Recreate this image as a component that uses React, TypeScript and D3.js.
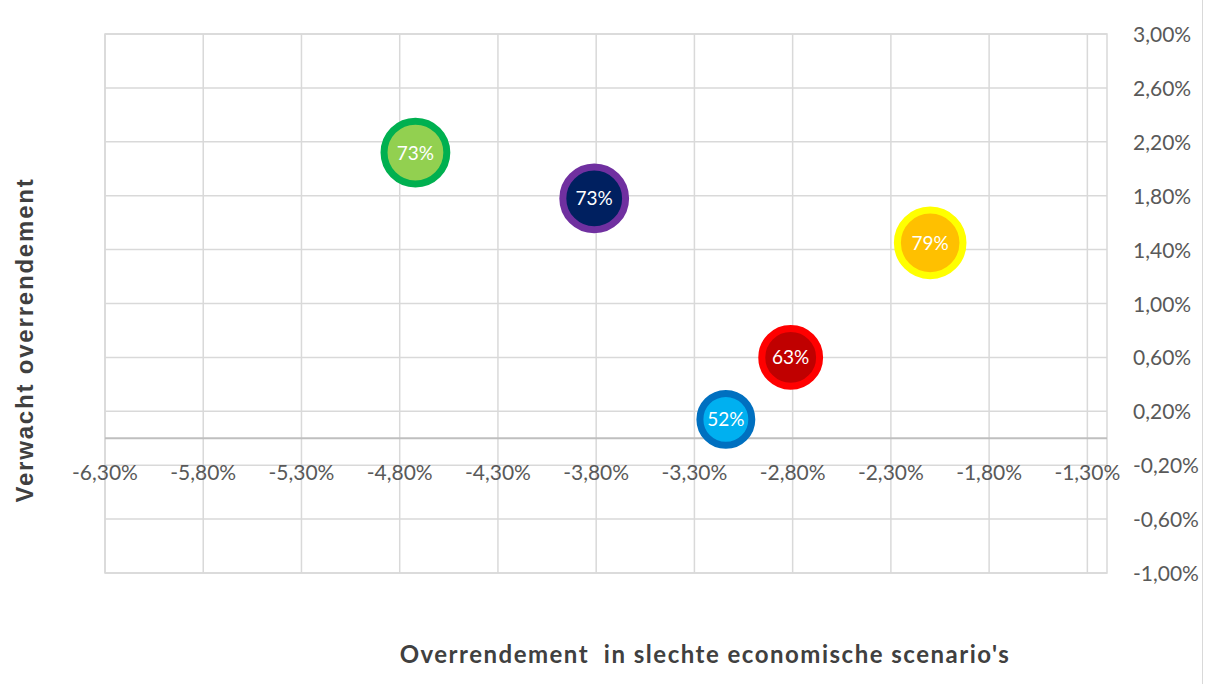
import React from "react";
import * as d3 from "d3";

const xTicks = [-6.3, -5.8, -5.3, -4.8, -4.3, -3.8, -3.3, -2.8, -2.3, -1.8, -1.3];
const yTicks = [-1.0, -0.6, -0.2, 0.2, 0.6, 1.0, 1.4, 1.8, 2.2, 2.6, 3.0];
const xDomain = [-6.3, -1.2];
const yDomain = [-1.0, 3.0];

const bubbleX = [-4.72, -3.81, -2.1, -2.81, -3.14];
const bubbleY = [2.12, 1.78, 1.45, 0.6, 0.14];
const bubbleSize = [73, 73, 79, 63, 52];
const bubbleFill = ["#92D050", "#002060", "#FFC000", "#C00000", "#00B0F0"];
const bubbleStroke = ["#00B050", "#7030A0", "#FFFF00", "#FF0000", "#0070C0"];

const xTitle = "Overrendement  in slechte economische scenario's";
const yTitle = "Verwacht overrendement";

const W = 1207;
const H = 684;

export default function App() {
  const x = d3.scaleLinear().domain(xDomain).range([105, 1107]);
  const y = d3.scaleLinear().domain(yDomain).range([573, 34]);
  const r = d3.scaleSqrt().domain([0, 79]).range([0, 36.3]);
  const fmt = (v: number) => d3.format(".2f")(v).replace("\u2212", "-").replace(".", ",") + "%";
  const sw = 7;
  const grid = "#d9d9d9";
  const font = "Lato, 'Open Sans', sans-serif";
  return (
    <svg
      width={W}
      height={H}
      style={{ position: "absolute", left: 0, top: 0, background: "#fff" }}
      fontFamily={font}
    >
      <rect x={0} y={0} width={W} height={H} fill="#fff" />
      <line x1={1202.5} x2={1202.5} y1={0} y2={H} stroke={grid} strokeWidth={1} />
      {xTicks.map((t) => (
        <line key={"vx" + t} x1={x(t)} x2={x(t)} y1={y(3.0)} y2={y(-1.0)} stroke={grid} strokeWidth={1.5} />
      ))}
      {yTicks.map((t) => (
        <line key={"hy" + t} x1={x(-6.3)} x2={x(-1.2)} y1={y(t)} y2={y(t)} stroke={grid} strokeWidth={1.5} />
      ))}
      <rect
        x={x(-6.3)}
        y={y(3.0)}
        width={x(-1.2) - x(-6.3)}
        height={y(-1.0) - y(3.0)}
        fill="none"
        stroke={grid}
        strokeWidth={1.5}
      />
      <line x1={x(-6.3)} x2={x(-1.2)} y1={y(0)} y2={y(0)} stroke="#bfbfbf" strokeWidth={2} />
      {xTicks.map((t) => (
        <text key={"xl" + t} x={x(t)} y={y(0) + 42} textAnchor="middle" fontSize={21} fill="#595959">
          {fmt(t)}
        </text>
      ))}
      {yTicks.map((t) => (
        <text key={"yl" + t} x={1133} y={y(t) + 8} textAnchor="start" fontSize={21} fill="#595959">
          {fmt(t)}
        </text>
      ))}
      {bubbleX.map((bx, i) => (
        <g key={"b" + i}>
          <circle
            cx={x(bx)}
            cy={y(bubbleY[i])}
            r={r(bubbleSize[i]) - sw / 2}
            fill={bubbleFill[i]}
            stroke={bubbleStroke[i]}
            strokeWidth={sw}
          />
          <text x={x(bx)} y={y(bubbleY[i]) + 7} textAnchor="middle" fontSize={19} fill="#ffffff">
            {bubbleSize[i] + "%"}
          </text>
        </g>
      ))}
      <text
        x={705}
        y={663}
        textAnchor="middle"
        fontSize={24}
        fontWeight="bold"
        fill="#404040"
        letterSpacing={1.5}
        style={{ whiteSpace: "pre" }}
      >
        {xTitle}
      </text>
      <text
        transform={`translate(33, 340) rotate(-90)`}
        textAnchor="middle"
        fontSize={24}
        fontWeight="bold"
        fill="#404040"
        fontFamily="'Liberation Sans', Arial, sans-serif"
        letterSpacing={1.8}
      >
        {yTitle}
      </text>
    </svg>
  );
}
